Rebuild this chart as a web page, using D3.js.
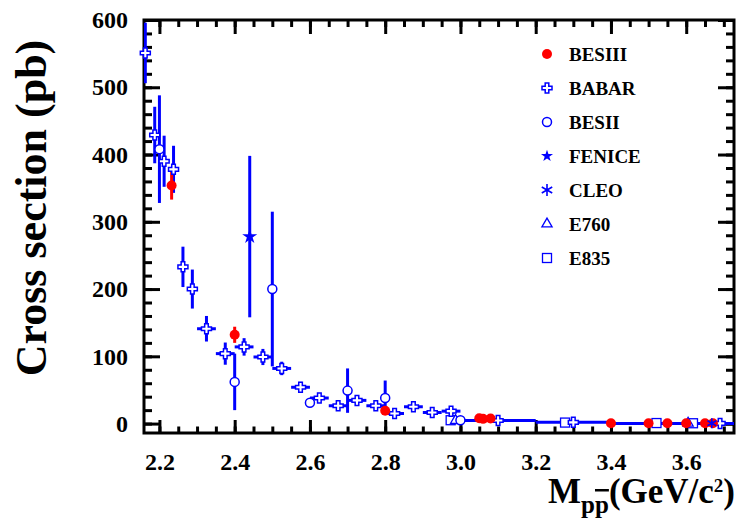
<!DOCTYPE html>
<html>
<head>
<meta charset="utf-8">
<script src="https://cdn.jsdelivr.net/npm/d3@7"></script>
<style>
  html, body { margin: 0; padding: 0; background: #fff; }
  svg { display: block; }
  text { font-family: "Liberation Serif", "Times New Roman", serif; font-weight: bold; fill: #000; }
</style>
</head>
<body>
<svg id="chart" width="737" height="520"></svg>
<script>
// ---------------- DATA ----------------
// BESIII (filled red circles)
const besiiiM   = [2.2324, 2.4, 2.8, 3.05, 3.06, 3.08, 3.4, 3.5, 3.55, 3.6, 3.65, 3.671];
const besiiiV   = [354, 132, 19, 8, 7, 7.5, 0.5, 0.5, 0.5, 0.5, 0.5, 0.5];
const besiiiErr = [21, 12, 3, 1.5, 1.5, 1.5, 0.5, 0.5, 0.5, 0.5, 0.5, 0.5];

// BABAR (open crosses)
const babarM    = [2.1625, 2.1875, 2.2125, 2.2375, 2.2625, 2.2875, 2.325, 2.375, 2.425, 2.475, 2.525, 2.575, 2.625, 2.675, 2.725, 2.775, 2.825, 2.875, 2.925, 2.975, 3.1, 3.3, 3.69];
const babarV    = [551, 429, 390, 378, 233, 200, 141, 104, 114, 99, 82, 54, 38, 26.5, 34.5, 26.5, 15, 25, 16.5, 18.5, 4.5, 1.8, 0.3];
const babarErr  = [45, 42, 38, 35, 30, 29, 19, 16.5, 13, 12, 10, 8, 7, 7, 7, 7, 5, 4, 4, 4, 1.5, 1, 0.5];
const babarXErr = [0.0125, 0.0125, 0.0125, 0.0125, 0.0125, 0.0125, 0.025, 0.025, 0.025, 0.025, 0.025, 0.025, 0.025, 0.025, 0.025, 0.025, 0.025, 0.025, 0.025, 0.025, 0.1, 0.1, 0.29];

// BESII (open circles)
const besiiM     = [2.2, 2.4, 2.5, 2.6, 2.7, 2.8, 3.0];
const besiiV     = [408, 62, 200, 31, 49, 38, 5];
const besiiErrHi = [80, 42, 115, 6, 33, 26, 2];
const besiiErrLo = [80, 42, 115, 6, 33, 17, 2];

// FENICE (filled star)
const feniceM   = [2.44];
const feniceV   = [278];
const feniceErr = [120];

// CLEO (asterisk)
const cleoM = [3.668];
const cleoV = [0.5];

// E760 (open triangles)
const e760M = [2.987, 3.605];
const e760V = [4.5, 0.5];

// E835 (open squares)
const e835M = [2.974, 3.278, 3.521, 3.618];
const e835V = [5, 1.5, 0.8, 0.5];

// Axes
const xTickValues = [2.2, 2.4, 2.6, 2.8, 3.0, 3.2, 3.4, 3.6];
const yTickValues = [0, 100, 200, 300, 400, 500, 600];
const legendNames = ["BESIII", "BABAR", "BESII", "FENICE", "CLEO", "E760", "E835"];

// ---------------- LAYOUT ----------------
const BLUE = "#0000ff", RED = "#ff0000";
const FONT = "'Liberation Serif', 'Times New Roman', serif";
const L = 144, R = 734, T = 20, B = 433;
const svg = d3.select("#chart");

const x = d3.scaleLinear().domain([2.159, 3.727]).range([L, R]);
const y = d3.scaleLinear().domain([-14, 600]).range([B, T]);

svg.append("defs").append("clipPath").attr("id", "plotclip")
  .append("rect").attr("x", L).attr("y", T).attr("width", R - L).attr("height", B - T);

// ---------- axes (ticks inward) ----------
const xMinor = d3.range(2.2, 3.73, 0.05).map(d => +d.toFixed(2)).filter(d => d > 2.159 && d < 3.727);
const yMinor = d3.range(0, 601, 20);

function styleAxis(g) {
  g.attr("font-family", FONT);
  g.select(".domain").remove();
  g.selectAll(".tick line").attr("stroke", "#000").attr("stroke-width", 3);
  g.selectAll(".tick text").attr("fill", "#000").style("font-size", "24px").style("font-family", FONT).style("font-weight", "bold");
}

// bottom
svg.append("g").attr("transform", `translate(0,${B})`)
  .call(d3.axisBottom(x).tickValues(xMinor).tickSize(-6.5).tickFormat(""))
  .call(styleAxis);
svg.append("g").attr("transform", `translate(0,${B})`)
  .call(d3.axisBottom(x).tickValues(xTickValues).tickSize(-13).tickPadding(20).tickFormat(d3.format(".1f")))
  .call(styleAxis);
// top
svg.append("g").attr("transform", `translate(0,${T})`)
  .call(d3.axisTop(x).tickValues(xMinor).tickSize(-7).tickFormat(""))
  .call(styleAxis);
svg.append("g").attr("transform", `translate(0,${T})`)
  .call(d3.axisTop(x).tickValues(xTickValues).tickSize(-14).tickFormat(""))
  .call(styleAxis);
// left
svg.append("g").attr("transform", `translate(${L},0)`)
  .call(d3.axisLeft(y).tickValues(yMinor).tickSize(-8).tickFormat(""))
  .call(styleAxis);
svg.append("g").attr("transform", `translate(${L},0)`)
  .call(d3.axisLeft(y).tickValues(yTickValues).tickSize(-16).tickPadding(16).tickFormat(d3.format("d")))
  .call(styleAxis);
// right
svg.append("g").attr("transform", `translate(${R},0)`)
  .call(d3.axisRight(y).tickValues(yMinor).tickSize(-8).tickFormat(""))
  .call(styleAxis);
svg.append("g").attr("transform", `translate(${R},0)`)
  .call(d3.axisRight(y).tickValues(yTickValues).tickSize(-16).tickFormat(""))
  .call(styleAxis);

// frame
svg.append("rect").attr("x", L).attr("y", T).attr("width", R - L).attr("height", B - T)
  .attr("fill", "none").attr("stroke", "#000").attr("stroke-width", 3);

// ---------- marker shapes ----------
function crossPath(a, t) {
  return `M${-t},${-a}H${t}V${-t}H${a}V${t}H${t}V${a}H${-t}V${t}H${-a}V${-t}H${-t}Z`;
}
function asterisk(s) {
  return `M0,${-s}V${s}M${-s*0.87},${-s*0.5}L${s*0.87},${s*0.5}M${-s*0.87},${s*0.5}L${s*0.87},${-s*0.5}`;
}
const shapes = {
  besiii: (g, k) => g.append("circle").attr("r", 5).attr("fill", RED),
  babar: (g, k) => g.append("path").attr("d", crossPath(5, 1.8)).attr("fill", "#fff").attr("stroke", BLUE).attr("stroke-width", 1.5),
  besii: (g, k) => g.append("circle").attr("r", 4.5).attr("fill", "#fff").attr("stroke", BLUE).attr("stroke-width", 1.5),
  fenice: (g, k) => g.append("path").attr("d", d3.symbol(d3.symbolStar, k ? 45 : 70)()).attr("fill", BLUE),
  cleo: (g, k) => g.append("path").attr("d", asterisk(k ? 6 : 5)).attr("stroke", BLUE).attr("stroke-width", 1.6).attr("fill", "none"),
  e760: (g, k) => g.append("path").attr("d", d3.symbol(d3.symbolTriangle, 45)()).attr("fill", "#fff").attr("stroke", BLUE).attr("stroke-width", 1.3),
  e835: (g, k) => g.append("rect").attr("x", -4.5).attr("y", -4.5).attr("width", 9).attr("height", 9).attr("fill", "#fff").attr("stroke", BLUE).attr("stroke-width", 1.3)
};

const errLayer = svg.append("g").attr("clip-path", "url(#plotclip)");
const markLayer = svg.append("g");

function errorBars(ms, vs, lo, hi, xe, color) {
  const g = errLayer.append("g").attr("stroke", color).attr("stroke-width", 3).attr("fill", "none");
  ms.forEach((m, i) => {
    if (lo) g.append("line").attr("x1", x(m)).attr("x2", x(m)).attr("y1", y(vs[i] - lo[i])).attr("y2", y(vs[i] + hi[i]));
    if (xe && xe[i]) g.append("line").attr("x1", x(m - xe[i])).attr("x2", x(m + xe[i])).attr("y1", y(vs[i])).attr("y2", y(vs[i]));
  });
}
function markers(ms, vs, shape) {
  ms.forEach((m, i) => {
    const g = markLayer.append("g").attr("transform", `translate(${x(m)},${y(vs[i])})`);
    shapes[shape](g, false);
  });
}

// error bars
errorBars(babarM, babarV, babarErr, babarErr, babarXErr, BLUE);
errorBars(besiiM, besiiV, besiiErrLo, besiiErrHi, null, BLUE);
errorBars(feniceM, feniceV, feniceErr, feniceErr, null, BLUE);
errorBars(besiiiM, besiiiV, besiiiErr, besiiiErr, null, RED);

// markers
markers(e835M, e835V, "e835");
markers(e760M, e760V, "e760");
markers(besiiM, besiiV, "besii");
markers(babarM, babarV, "babar");
markers(feniceM, feniceV, "fenice");
markers(besiiiM, besiiiV, "besiii");
markers(cleoM, cleoV, "cleo");

// ---------- legend ----------
const legendKeys = ["besiii", "babar", "besii", "fenice", "cleo", "e760", "e835"];
const lg = svg.append("g");
legendNames.forEach((name, i) => {
  const yy = 54 + i * 34;
  shapes[legendKeys[i]](lg.append("g").attr("transform", `translate(547,${yy})`), true);
  lg.append("text").attr("x", 569).attr("y", yy).attr("dy", "0.35em")
    .attr("font-family", FONT).style("font-size", "19px").text(name);
});

// ---------- axis titles ----------
svg.append("text")
  .attr("transform", "translate(46,208) rotate(-90)")
  .attr("text-anchor", "middle")
  .attr("font-family", FONT)
  .style("font-size", "44px")
  .text("Cross section (pb)");

const xt = svg.append("text").attr("x", 735).attr("y", 503).attr("text-anchor", "end")
  .attr("font-family", FONT).style("font-size", "35px");
xt.append("tspan").text("M");
xt.append("tspan").attr("dy", 10).style("font-size", "25px").text("p");
xt.append("tspan").style("font-size", "25px").style("text-decoration", "overline").text("p");
xt.append("tspan").attr("dy", -10).text("(GeV/c");
xt.append("tspan").attr("dy", -11).style("font-size", "19px").text("2");
xt.append("tspan").attr("dy", 11).text(")");
</script>
</body>
</html>
